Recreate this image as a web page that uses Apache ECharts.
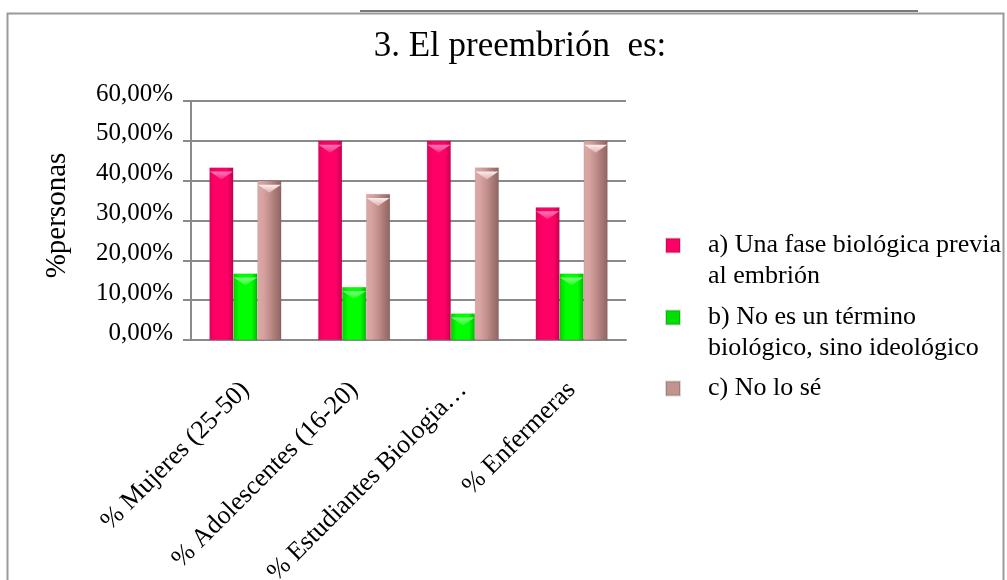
<!DOCTYPE html>
<html>
<head>
<meta charset="utf-8">
<script src="https://cdn.jsdelivr.net/npm/echarts@6/dist/echarts.min.js"></script>
<style>html,body{margin:0;padding:0;background:#fff;}#c{width:1007px;height:580px;}</style>
</head>
<body>
<div id="c"></div>
<script>
const titleText = '3. El preembrión  es:';
const categories = ['% Mujeres (25-50)', '% Adolescentes (16-20)', '% Estudiantes Biologia…', '% Enfermeras'];
const seriesNames = ['a) Una fase biológica previa al embrión', 'b) No es un término biológico, sino ideológico', 'c) No lo sé'];
const legendLabels = ['a) Una fase biológica previa\nal embrión', 'b) No es un término\nbiológico, sino ideológico', 'c) No lo sé'];
const valuesA = [43.33, 50.00, 50.00, 33.33];
const valuesB = [16.67, 13.33, 6.67, 16.67];
const valuesC = [40.00, 36.67, 43.33, 50.00];
const yTicks = [0, 10, 20, 30, 40, 50, 60];
const yAxisName = '%personas';

const FONT = '"Liberation Serif", "Times New Roman", serif';
const chart = echarts.init(document.getElementById('c'));

function grad(stops) {
  return new echarts.graphic.LinearGradient(0, 0, 1, 0, stops.map((c, i) => ({offset: i / (stops.length - 1), color: c})));
}
function vgrad(a, b) {
  return new echarts.graphic.LinearGradient(0, 0, 0, 1, [{offset: 0, color: a}, {offset: 1, color: b}]);
}
const colors = [
  grad(['#e2005a', '#ff0066', '#ff0066', '#ff0066', '#c4004e']),
  grad(['#00d000', '#00ff00', '#00ff00', '#00ff00', '#00b800']),
  grad(['#dba9a6', '#d6a29f', '#c28f8c', '#a87876', '#8e6462'])
];
const capColors = [vgrad('#ff7ab4', '#ff2a84'), vgrad('#7dff7d', '#20ff20'), vgrad('#fbeeee', '#dcb2ae')];
const legendIcon = ['#ff0066', '#00e000', '#c29490'];
const seriesData = [valuesA, valuesB, valuesC];

const legendTops = [199, 271, 373];
const legends = seriesNames.map((n, i) => ({
  orient: 'vertical', left: 665, top: legendTops[i], padding: 0,
  itemWidth: 14, itemHeight: 14, itemGap: 0,
  icon: 'rect', selectedMode: false,
  data: [{name: n, itemStyle: {color: legendIcon[i]}}],
  formatter: () => legendLabels[i].indexOf('\n') >= 0 ? '\n' + legendLabels[i] : legendLabels[i],
  textStyle: {fontFamily: FONT, fontSize: 26, color: '#000', lineHeight: 31, padding: [0, 0, 0, 23]}
}));

const barSeries = seriesData.map((d, i) => ({
  type: 'bar', name: seriesNames[i], data: d,
  barWidth: 24, barGap: '0%',
  itemStyle: {color: colors[i], borderColor: 'rgba(0,0,0,0.15)', borderWidth: 0.5},
  emphasis: {disabled: true}
}));
const capSeries = seriesData.map((d, i) => ({
  type: 'pictorialBar', name: seriesNames[i] + ' cap', data: d,
  barWidth: 24, barGap: '0%',
  symbol: 'path://M0,0 L10,0 L5,3 Z', symbolSize: [23, 8], symbolPosition: 'end',
  symbolOffset: [0, '50%'], z: 3, silent: true,
  itemStyle: {color: capColors[i]},
  emphasis: {disabled: true}
}));

chart.setOption({
  backgroundColor: '#fff',
  animation: false,
  title: {text: titleText, left: 515, textAlign: 'center', top: 24,
    textStyle: {fontFamily: FONT, fontSize: 35, fontWeight: 'normal', color: '#000'}},
  legend: legends,
  grid: {left: 191, right: 381, top: 101, bottom: 240, containLabel: false, outerBoundsMode: 'none'},
  xAxis: {
    type: 'category', data: categories,
    axisLine: {show: true, lineStyle: {color: '#8a8a8a', width: 2}},
    axisTick: {show: false},
    axisLabel: {rotate: 45, margin: 46, interval: 0, fontFamily: FONT, fontSize: 26, color: '#000'}
  },
  yAxis: {
    type: 'value', min: yTicks[0], max: yTicks[yTicks.length - 1], interval: 10,
    name: yAxisName, nameLocation: 'middle', nameGap: 119, nameRotate: 90,
    nameTextStyle: {fontFamily: FONT, fontSize: 29, color: '#000', padding: [0, 0, 0, 10]},
    axisLine: {show: true, lineStyle: {color: '#8a8a8a', width: 2}},
    axisTick: {show: true, inside: false, length: 8, lineStyle: {color: '#8a8a8a', width: 2}},
    splitLine: {show: true, lineStyle: {color: '#8a8a8a', width: 2}},
    axisLabel: {margin: 18, fontFamily: FONT, fontSize: 25, color: '#000',
      showMinLabel: true, showMaxLabel: true, hideOverlap: false,
      verticalAlign: 'bottom', lineHeight: 14,
      formatter: v => v.toFixed(2).replace('.', ',') + '%'}
  },
  series: barSeries.concat(capSeries),
  graphic: [
    {type: 'rect', left: 5, top: 11, z: -1, silent: true,
      shape: {width: 996, height: 590},
      style: {fill: null, stroke: '#9a9a9a', lineWidth: 2}},
    {type: 'line', silent: true, shape: {x1: 360, y1: 11, x2: 918, y2: 11},
      style: {stroke: '#7a7a7a', lineWidth: 2}}
  ]
});
</script>
</body>
</html>
